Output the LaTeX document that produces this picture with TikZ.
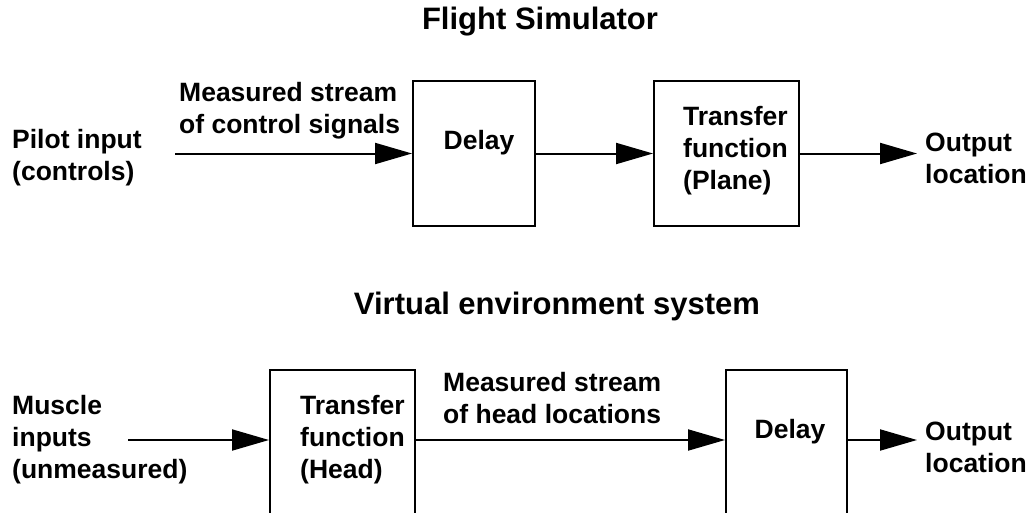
\documentclass[tikz,border=0pt]{standalone}
\usepackage{fontspec}
\setmainfont{Liberation Sans}
\usetikzlibrary{arrows.meta,calc,positioning}

\tikzset{
  blk/.style={draw, line width=2pt, inner sep=0pt},
  txt/.style={font=\bfseries\fontsize{26.5}{32}\selectfont, align=left, inner sep=0pt, anchor=west},
  ttl/.style={font=\bfseries\fontsize{31}{32}\selectfont, inner sep=0pt},
  flow/.style={line width=2pt, -{Triangle[length=37pt,width=21pt]}}
}

\begin{document}
\begin{tikzpicture}[x=1pt,y=-1pt]
  \useasboundingbox (0,0) rectangle (1029,512);
  \clip (0,0) rectangle (1029,512);
  % --- flight simulator ---
  \node[ttl] (title1) at (540,22) {Flight Simulator};
  \node[blk, minimum width=122pt, minimum height=145pt] (delay1) at (474,153.5) {};
  \node[blk, minimum width=145pt, minimum height=145pt] (tf1) at (726.5,153.5) {};
  \node[txt, anchor=center] (delay1lbl) at (479,143) {Delay};
  \node[txt] (tf1lbl) at (683,151) {Transfer\\function\\(Plane)};
  \node[txt] (pilot) at (12,158) {Pilot input\\(controls)};
  \node[txt] (stream1) at (179,111) {Measured stream\\of control signals};
  \node[txt] (out1lbl) at (925,158) {Output\\location};
  \coordinate (in1) at (175,153.5);
  \coordinate (out1) at (917,153.5);
  \draw[flow] (in1) -- (delay1.west);
  \draw[flow] (delay1.east) -- (tf1.west);
  \draw[flow] (tf1.east) -- (out1);
  % --- virtual environment system ---
  \node[ttl] (title2) at (557,306) {Virtual environment system};
  \node[blk, minimum width=145pt, minimum height=160pt] (tf2) at (342.5,450) {};
  \node[blk, minimum width=121pt, minimum height=160pt] (delay2) at (786.5,450) {};
  \node[txt] (tf2lbl) at (300,440) {Transfer\\function\\(Head)};
  \node[txt, anchor=center] (delay2lbl) at (790,432) {Delay};
  \node[txt] (muscle) at (12,440) {Muscle\\inputs\\(unmeasured)};
  \node[txt] (stream2) at (443,398) {Measured stream\\of head locations};
  \node[txt] (out2lbl) at (925,447) {Output\\location};
  \coordinate (in2) at (128,440);
  \coordinate (out2) at (917,440);
  \draw[flow] (in2) -- (in2 -| tf2.west);
  \draw[flow] (tf2.east |- in2) -- (delay2.west |- in2);
  \draw[flow] (delay2.east |- in2) -- (out2);
\end{tikzpicture}
\end{document}
